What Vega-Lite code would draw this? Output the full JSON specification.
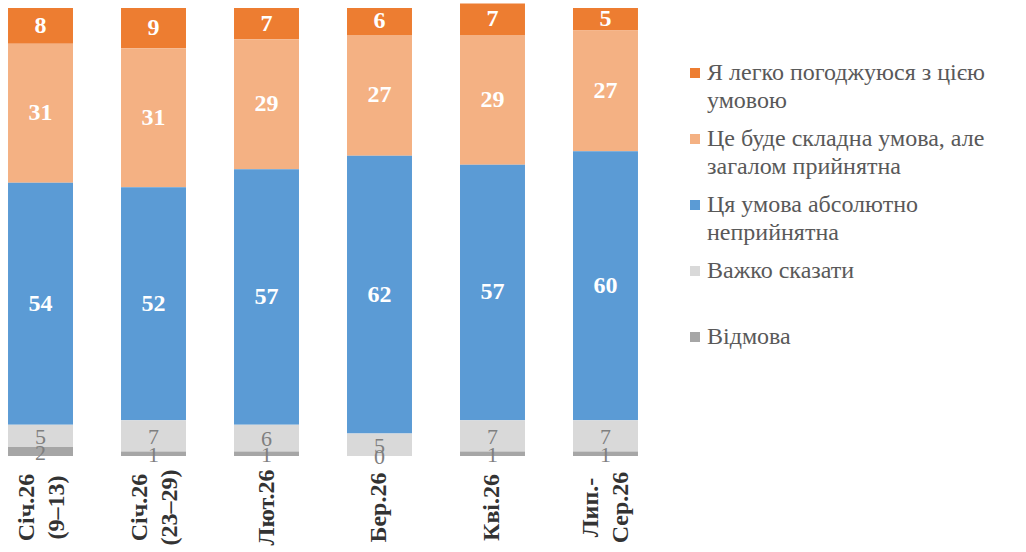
{
  "$schema": "https://vega.github.io/schema/vega-lite/v6.json",
  "width": 646,
  "height": 448,
  "autosize": {"type": "none"},
  "padding": {"left": 0, "top": 8, "right": 380, "bottom": 96},
  "background": "white",
  "config": {"view": {"stroke": null}, "font": "Liberation Serif"},
  "data": {
    "values": [
      {"period": "Січ.26 (9–13)", "resp": "Я легко погоджуюся з цією умовою", "rank": 5, "value": 8},
      {"period": "Січ.26 (9–13)", "resp": "Це буде складна умова, але загалом прийнятна", "rank": 4, "value": 31},
      {"period": "Січ.26 (9–13)", "resp": "Ця умова абсолютно неприйнятна", "rank": 3, "value": 54},
      {"period": "Січ.26 (9–13)", "resp": "Важко сказати", "rank": 2, "value": 5},
      {"period": "Січ.26 (9–13)", "resp": "Відмова", "rank": 1, "value": 2},
      {"period": "Січ.26 (23–29)", "resp": "Я легко погоджуюся з цією умовою", "rank": 5, "value": 9},
      {"period": "Січ.26 (23–29)", "resp": "Це буде складна умова, але загалом прийнятна", "rank": 4, "value": 31},
      {"period": "Січ.26 (23–29)", "resp": "Ця умова абсолютно неприйнятна", "rank": 3, "value": 52},
      {"period": "Січ.26 (23–29)", "resp": "Важко сказати", "rank": 2, "value": 7},
      {"period": "Січ.26 (23–29)", "resp": "Відмова", "rank": 1, "value": 1},
      {"period": "Лют.26", "resp": "Я легко погоджуюся з цією умовою", "rank": 5, "value": 7},
      {"period": "Лют.26", "resp": "Це буде складна умова, але загалом прийнятна", "rank": 4, "value": 29},
      {"period": "Лют.26", "resp": "Ця умова абсолютно неприйнятна", "rank": 3, "value": 57},
      {"period": "Лют.26", "resp": "Важко сказати", "rank": 2, "value": 6},
      {"period": "Лют.26", "resp": "Відмова", "rank": 1, "value": 1},
      {"period": "Бер.26", "resp": "Я легко погоджуюся з цією умовою", "rank": 5, "value": 6},
      {"period": "Бер.26", "resp": "Це буде складна умова, але загалом прийнятна", "rank": 4, "value": 27},
      {"period": "Бер.26", "resp": "Ця умова абсолютно неприйнятна", "rank": 3, "value": 62},
      {"period": "Бер.26", "resp": "Важко сказати", "rank": 2, "value": 5},
      {"period": "Бер.26", "resp": "Відмова", "rank": 1, "value": 0},
      {"period": "Кві.26", "resp": "Я легко погоджуюся з цією умовою", "rank": 5, "value": 7},
      {"period": "Кві.26", "resp": "Це буде складна умова, але загалом прийнятна", "rank": 4, "value": 29},
      {"period": "Кві.26", "resp": "Ця умова абсолютно неприйнятна", "rank": 3, "value": 57},
      {"period": "Кві.26", "resp": "Важко сказати", "rank": 2, "value": 7},
      {"period": "Кві.26", "resp": "Відмова", "rank": 1, "value": 1},
      {"period": "Лип.-Сер.26", "resp": "Я легко погоджуюся з цією умовою", "rank": 5, "value": 5},
      {"period": "Лип.-Сер.26", "resp": "Це буде складна умова, але загалом прийнятна", "rank": 4, "value": 27},
      {"period": "Лип.-Сер.26", "resp": "Ця умова абсолютно неприйнятна", "rank": 3, "value": 60},
      {"period": "Лип.-Сер.26", "resp": "Важко сказати", "rank": 2, "value": 7},
      {"period": "Лип.-Сер.26", "resp": "Відмова", "rank": 1, "value": 1}
    ]
  },
  "encoding": {
    "x": {
      "field": "period",
      "type": "nominal",
      "sort": null,
      "scale": {"paddingInner": 0.425, "paddingOuter": 0.071},
      "axis": {
        "title": null,
        "labelAngle": -90,
        "labelAlign": "center",
        "labelBaseline": "middle",
        "labelPadding": 51,
        "labelOffset": {"condition": {"test": "datum.value == 'Січ.26 (9–13)' || datum.value == 'Січ.26 (23–29)' || datum.value == 'Лип.-Сер.26'", "value": -14}, "value": 0},
        "labelFont": "Liberation Serif",
        "labelFontSize": 24,
        "labelFontWeight": "bold",
        "labelColor": "#333333",
        "labelLineHeight": 30,
        "labelLimit": 0,
        "labelOverlap": false,
        "ticks": false,
        "domain": false,
        "grid": false,
        "labelExpr": "datum.label == 'Лип.-Сер.26' ? ['Лип.-', 'Сер.26'] : split(datum.label, ' ')"
      }
    },
    "y": {
      "field": "value",
      "type": "quantitative",
      "stack": "zero",
      "scale": {"domain": [0, 100], "nice": false},
      "axis": null
    },
    "order": {"field": "rank", "type": "quantitative"},
    "detail": {"field": "resp", "type": "nominal"}
  },
  "layer": [
    {
      "mark": {"type": "bar", "clip": false},
      "encoding": {
        "color": {
          "field": "resp",
          "type": "nominal",
          "scale": {
            "domain": ["Я легко погоджуюся з цією умовою", "Це буде складна умова, але загалом прийнятна", "Ця умова абсолютно неприйнятна", "Важко сказати", "Відмова"],
            "range": ["#ED7D31", "#F4B183", "#5B9BD5", "#D9D9D9", "#A6A6A6"]
          },
          "legend": {
            "orient": "none",
            "legendX": 683,
            "legendY": 53,
            "title": null,
            "padding": 0,
            "symbolType": "square",
            "symbolSize": 100,
            "symbolStrokeWidth": 0,
            "symbolOpacity": 1,
            "labelFont": "Liberation Serif",
            "labelFontSize": 24,
            "labelColor": "#595959",
            "labelLimit": 400,
            "labelOffset": 0,
            "rowPadding": 14,
            "labelExpr": "datum.label == 'Я легко погоджуюся з цією умовою' ? ['Я легко погоджуюся з цією', 'умовою'] : datum.label == 'Це буде складна умова, але загалом прийнятна' ? ['Це буде складна умова, але', 'загалом прийнятна'] : datum.label == 'Ця умова абсолютно неприйнятна' ? ['Ця умова абсолютно', 'неприйнятна'] : [datum.label, ' ']",
            "encode": {"labels": {"update": {"lineHeight": {"value": 28}}}}
          }
        }
      }
    },
    {
      "mark": {"type": "text", "font": "Liberation Serif", "fontSize": 24, "fontWeight": "bold", "color": "white", "baseline": "middle"},
      "encoding": {
        "y": {"field": "value", "type": "quantitative", "stack": "zero", "bandPosition": 0.5},
        "text": {"condition": {"test": "datum.rank >= 3", "field": "value", "type": "quantitative"}, "value": ""}
      }
    },
    {
      "mark": {"type": "text", "font": "Liberation Serif", "fontSize": 22, "color": "#7f7f7f", "baseline": "middle", "dy": 1},
      "encoding": {
        "y": {"field": "value", "type": "quantitative", "stack": "zero", "bandPosition": 0.5},
        "text": {"condition": {"test": "datum.rank <= 2", "field": "value", "type": "quantitative"}, "value": ""}
      }
    }
  ]
}
